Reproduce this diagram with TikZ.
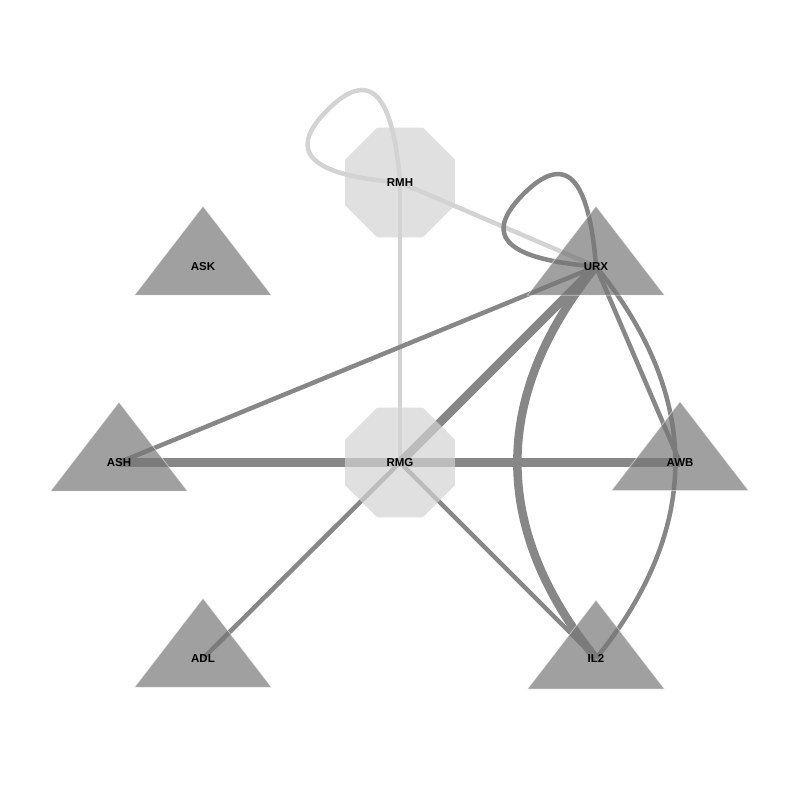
\documentclass[tikz,border=0pt]{standalone}
\usepackage{fontspec}
\setmainfont{Liberation Sans}
\usetikzlibrary{shapes.geometric,backgrounds}
\definecolor{edgedark}{HTML}{878787}
\definecolor{edgelight}{HTML}{D3D3D3}
\definecolor{trifill}{HTML}{777777}
\definecolor{octfill}{HTML}{D3D3D3}

\begin{document}
\begin{tikzpicture}[x=1pt, y=1pt,
trinode/.style={isosceles triangle, shape border rotate=90, isosceles triangle stretches, minimum width=137pt, minimum height=89pt, inner sep=0pt, fill=trifill, fill opacity=0.7, text opacity=1, draw=white, draw opacity=0.5, line width=0.8pt, font=\bfseries\fontsize{11.5}{12}\selectfont},
octnode/.style={regular polygon, regular polygon sides=8, minimum size=119pt, inner sep=0pt, fill=octfill, fill opacity=0.7, text opacity=1, font=\bfseries\fontsize{11.5}{12}\selectfont},
thinedge/.style={draw=edgedark, line width=4.5pt, line join=round},
thickedge/.style={draw=edgedark, line width=8.5pt},
lightedge/.style={draw=edgelight, line width=4.5pt, line join=round},
]
\useasboundingbox (0,0) rectangle (800,800);
%Nodes
\node[octnode] (rmh) at (400,617.5) {RMH};
\node[trinode] (urx) at (596,533.5) {URX};
\node[trinode] (ask) at (203,533.5) {ASK};
\node[trinode] (ash) at (119,337.5) {ASH};
\node[octnode] (rmg) at (400,337.5) {RMG};
\node[trinode] (awb) at (680,337.5) {AWB};
\node[trinode] (adl) at (203,141.5) {ADL};
\node[trinode] (il2) at (596,141.5) {IL2};

%Loop tops
\coordinate (rmhloop) at ([shift={(-72.5,72.5)}]rmh.center);
\coordinate (urxloop) at ([shift={(-72.5,72.5)}]urx.center);

%Lines
\begin{scope}[on background layer]
\draw[lightedge] (rmh.center) .. controls +(-90,7) and +(-42,-42) .. (rmhloop) .. controls +(42,42) and +(-7,90) .. (rmh.center);
\draw[lightedge] (rmh.center) -- (urx.center);
\draw[lightedge] (rmh.center) -- (rmg.center);
\draw[thinedge] (urx.center) .. controls +(-90,7) and +(-42,-42) .. (urxloop) .. controls +(42,42) and +(-7,90) .. (urx.center);
\draw[thinedge] (urx.center) -- (ash.center);
\draw[thickedge] (urx.center) -- (rmg.center);
\draw[thinedge] (urx.center) -- (awb.center);
\draw[thickedge] (urx.center) to[bend right=39, looseness=1.09] (il2.center);
\draw[thinedge] (urx.center) to[bend left=39, looseness=1.1] (il2.center);
\draw[thickedge] (ash.center) -- (rmg.center);
\draw[thickedge] (rmg.center) -- (awb.center);
\draw[thinedge] (rmg.center) -- (adl.center);
\draw[thinedge] (rmg.center) -- (il2.center);
\end{scope}
\end{tikzpicture}
\end{document}
